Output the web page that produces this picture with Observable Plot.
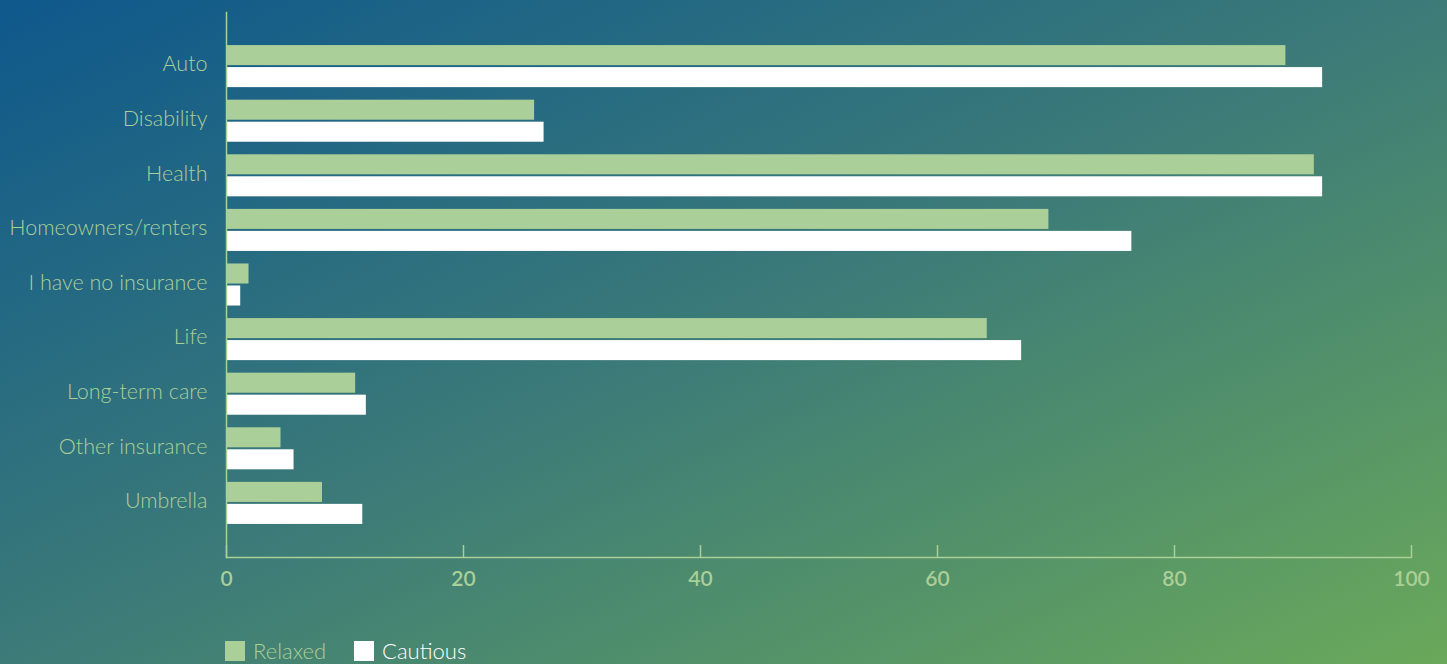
<!DOCTYPE html>
<html>
<head>
<meta charset="utf-8">
<script src="https://cdn.jsdelivr.net/npm/d3@7"></script>
<script src="https://cdn.jsdelivr.net/npm/@observablehq/plot@0.6"></script>
<style>
  html, body { margin: 0; padding: 0; width: 1447px; height: 664px; overflow: hidden; }
  body { background: linear-gradient(to bottom right, #0e588c 0%, #3c7b78 50%, #6aa95a 100%); font-family: Lato, "Open Sans", sans-serif; }
  #chart svg { display: block; background: transparent; }
  #legend { position: absolute; left: 225px; top: 641px; display: flex; align-items: center; font-size: 22px; font-family: Lato, sans-serif; font-weight: 300; }
  .sw { width: 20px; height: 20px; display: inline-block; margin-right: 8px; }
  .item { display: flex; align-items: center; margin-right: 28px; line-height: 20px; }
</style>
</head>
<body>
<div id="chart"></div>
<div id="legend"></div>
<script>
const categories = ["Auto","Disability","Health","Homeowners/renters","I have no insurance","Life","Long-term care","Other insurance","Umbrella"];
const relaxed  = [89.4, 26.0, 91.8, 69.4, 1.9, 64.2, 10.9, 4.6, 8.1];
const cautious = [92.5, 26.8, 92.5, 76.4, 1.2, 67.1, 11.8, 5.7, 11.5];
const xTicks = [0, 20, 40, 60, 80, 100];
const seriesNames = ["Relaxed", "Cautious"];
const seriesColors = ["#abcf98", "#ffffff"];

const relaxedData = categories.map((c, i) => ({category: c, value: relaxed[i]}));
const cautiousData = categories.map((c, i) => ({category: c, value: cautious[i]}));

const chart = Plot.plot({
  width: 1447,
  height: 630,
  marginLeft: 226,
  marginRight: 36,
  marginTop: 12,
  marginBottom: 73,
  style: {color: "#abcf98", background: "transparent", fontFamily: "Lato, sans-serif"},
  x: {domain: [0, 100]},
  y: {domain: categories, paddingInner: 0.23, paddingOuter: 0.606, round: false},
  marks: [
    Plot.barX(relaxedData, {x: "value", y: "category", fill: seriesColors[0], insetBottom: 22}),
    Plot.barX(cautiousData, {x: "value", y: "category", fill: seriesColors[1], insetTop: 22}),
    Plot.frame({anchor: "left", strokeWidth: 1.5}),
    Plot.frame({anchor: "bottom", strokeWidth: 1.5}),
    Plot.axisY({tickSize: 0, tickPadding: 19, fontSize: 21.5, fontWeight: 300, dy: -2, label: null}),
    Plot.axisX({ticks: xTicks, tickSize: -12, tickPadding: 26, fontSize: 21, fontWeight: 600, label: null, strokeWidth: 1.5})
  ]
});
document.getElementById("chart").appendChild(chart);

const legend = document.getElementById("legend");
seriesNames.forEach((name, i) => {
  const item = document.createElement("div");
  item.className = "item";
  const sw = document.createElement("span");
  sw.className = "sw";
  sw.style.background = seriesColors[i];
  const t = document.createElement("span");
  t.textContent = name;
  t.style.color = seriesColors[i];
  item.appendChild(sw);
  item.appendChild(t);
  legend.appendChild(item);
});
</script>
</body>
</html>
